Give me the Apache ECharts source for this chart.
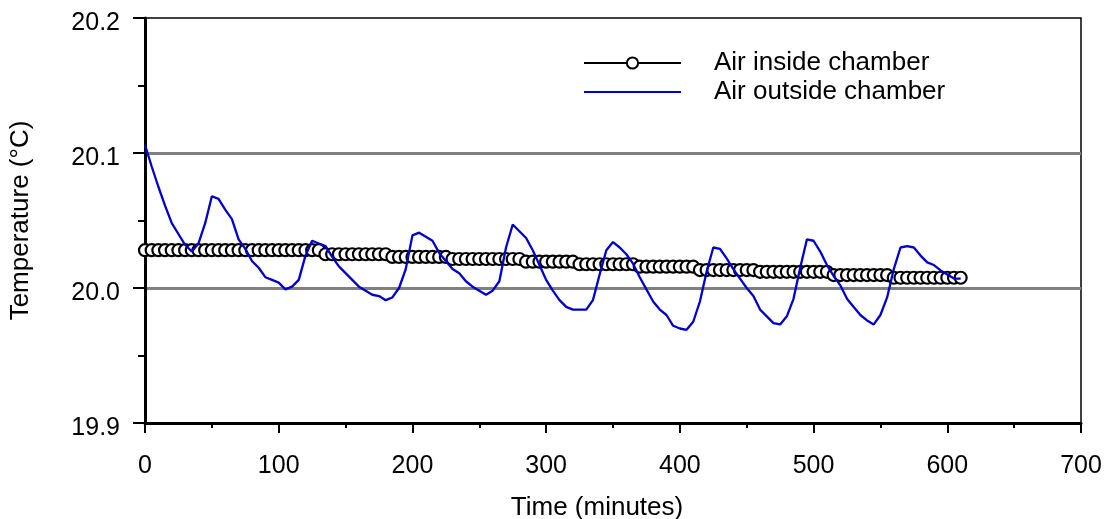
<!DOCTYPE html>
<html><head><meta charset="utf-8">
<script src="https://cdn.jsdelivr.net/npm/echarts@6/dist/echarts.min.js"></script>
<style>html,body{margin:0;padding:0;background:#fff}#c{width:1109px;height:519px}</style>
</head><body><div id="c"></div>
<script>
var times = [0,5,10,15,20,25,30,35,40,45,50,55,60,65,70,75,80,85,90,95,100,105,110,115,120,125,130,135,140,145,150,155,160,165,170,175,180,185,190,195,200,205,210,215,220,225,230,235,240,245,250,255,260,265,270,275,280,285,290,295,300,305,310,315,320,325,330,335,340,345,350,355,360,365,370,375,380,385,390,395,400,405,410,415,420,425,430,435,440,445,450,455,460,465,470,475,480,485,490,495,500,505,510,515,520,525,530,535,540,545,550,555,560,565,570,575,580,585,590,595,600,605,610];
var insideTemp = [
20.028,20.028,20.028,20.028,20.028,20.028,20.028,20.028,20.028,20.028,20.028,20.028,20.028,20.028,20.028,20.028,20.028,20.028,20.028,20.028,20.028,20.028,20.028,20.028,20.028,20.028,20.028,
20.025,20.025,20.025,20.025,20.025,20.025,20.025,20.025,20.025,20.025,
20.023,20.023,20.023,20.023,20.023,20.023,20.023,20.023,20.023,
20.0215,20.0215,20.0215,20.0215,20.0215,20.0215,20.0215,20.0215,20.0215,20.0215,20.0215,
20.0195,20.0195,20.0195,20.0195,20.0195,20.0195,20.0195,20.0195,
20.0176,20.0176,20.0176,20.0176,20.0176,20.0176,20.0176,20.0176,20.0176,
20.0158,20.0158,20.0158,20.0158,20.0158,20.0158,20.0158,20.0158,20.0158,
20.0133,20.0133,20.0133,20.0133,20.0133,20.0133,20.0133,20.0133,20.0133,
20.012,20.012,20.012,20.012,20.012,20.012,20.012,20.012,20.012,20.012,20.012,
20.0096,20.0096,20.0096,20.0096,20.0096,20.0096,20.0096,20.0096,20.0096,
20.0076,20.0076,20.0076,20.0076,20.0076,20.0076,20.0076,20.0076,20.0076,20.0076,20.0076];
var outsideTemp = [
20.106,20.090,20.075,20.061,20.048,20.040,20.032,20.027,20.033,20.048,
20.068,20.066,20.058,20.051,20.036,20.029,20.020,20.015,20.008,20.006,
20.004,19.999,20.001,20.006,20.024,20.035,20.033,20.031,20.023,20.016,
20.011,20.006,20.001,19.998,19.995,19.994,19.991,19.993,20.000,20.014,
20.039,20.041,20.038,20.035,20.026,20.020,20.014,20.011,20.005,20.001,
19.998,19.995,19.998,20.005,20.030,20.047,20.042,20.037,20.028,20.017,
20.006,19.998,19.991,19.986,19.984,19.984,19.984,19.991,20.010,20.028,
20.034,20.030,20.025,20.018,20.008,19.999,19.990,19.984,19.980,19.972,
19.970,19.969,19.975,19.990,20.012,20.030,20.029,20.022,20.014,20.007,
20.000,19.994,19.984,19.979,19.974,19.973,19.979,19.992,20.015,20.036,
20.035,20.027,20.017,20.009,20.002,19.992,19.986,19.980,19.976,19.973,
19.980,19.993,20.014,20.030,20.031,20.030,20.024,20.019,20.017,20.013,
20.010,20.007,20.007];
var seriesNames = ['Air inside chamber','Air outside chamber'];
var xTitle = 'Time (minutes)';
var yTitle = 'Temperature (\u00B0C)';

function pairs(t, v){ return t.map(function(x,i){ return [x, v[i]]; }); }
var font = 'Liberation Sans, Arial, sans-serif';
var chart = echarts.init(document.getElementById('c'));
chart.setOption({
  animation:false,
  grid:{left:145,right:28,top:18,bottom:96,containLabel:false,outerBoundsMode:'none',show:true,borderColor:'#000',borderWidth:1.5,backgroundColor:'transparent'},
  legend:{
    left:578, top:45, orient:'vertical', itemWidth:97, itemHeight:14, itemGap:3,
    textStyle:{fontFamily:font,fontSize:26,color:'#000',padding:[0,0,0,28]},
    data:[
      {name:seriesNames[0]},
      {name:seriesNames[1], icon:'path://M0,0L100,0L100,2.3L0,2.3Z', itemStyle:{color:'#0000CC'}}
    ]
  },
  xAxis:{
    type:'value', min:0, max:700, interval:100,
    name:xTitle, nameLocation:'middle', nameGap:72,
    nameTextStyle:{fontFamily:font,fontSize:26,color:'#000',padding:[0,32,0,0]},
    axisLine:{onZero:false,lineStyle:{color:'#000',width:3}},
    axisTick:{show:true,length:10,lineStyle:{color:'#000',width:2}},
    minorTick:{show:true,splitNumber:2,length:5,lineStyle:{color:'#000',width:2}},
    axisLabel:{fontFamily:font,fontSize:25,color:'#000',margin:31},
    splitLine:{show:false}
  },
  yAxis:{
    type:'value', min:19.9, max:20.2, interval:0.1,
    name:yTitle, nameLocation:'middle', nameGap:111,
    nameTextStyle:{fontFamily:font,fontSize:26,color:'#000'},
    axisLine:{onZero:false,lineStyle:{color:'#000',width:3}},
    axisTick:{show:true,length:12,lineStyle:{color:'#000',width:2}},
    minorTick:{show:true,splitNumber:2,length:7,lineStyle:{color:'#000',width:2}},
    axisLabel:{fontFamily:font,fontSize:25,color:'#000',margin:25,
      formatter:function(v){return '{v|' + v.toFixed(1) + '}';},
      rich:{v:{fontFamily:font,fontSize:25,color:'#000',padding:[10,0,0,0]}}},
    splitLine:{show:true,showMinLine:false,showMaxLine:false,lineStyle:{color:'#808080',width:3}}
  },
  series:[
    {name:seriesNames[0], type:'line', data:pairs(times, insideTemp),
     symbol:'circle', symbolSize:12, showSymbol:true,
     itemStyle:{color:'#fff',borderColor:'#000',borderWidth:2.2},
     lineStyle:{color:'#000',width:2}, z:2},
    {name:seriesNames[1], type:'line', data:pairs(times, outsideTemp),
     symbol:'none', showSymbol:false,
     itemStyle:{color:'#0000CC'},
     lineStyle:{color:'#0000CC',width:2.3}, z:3}
  ]
});
</script></body></html>
